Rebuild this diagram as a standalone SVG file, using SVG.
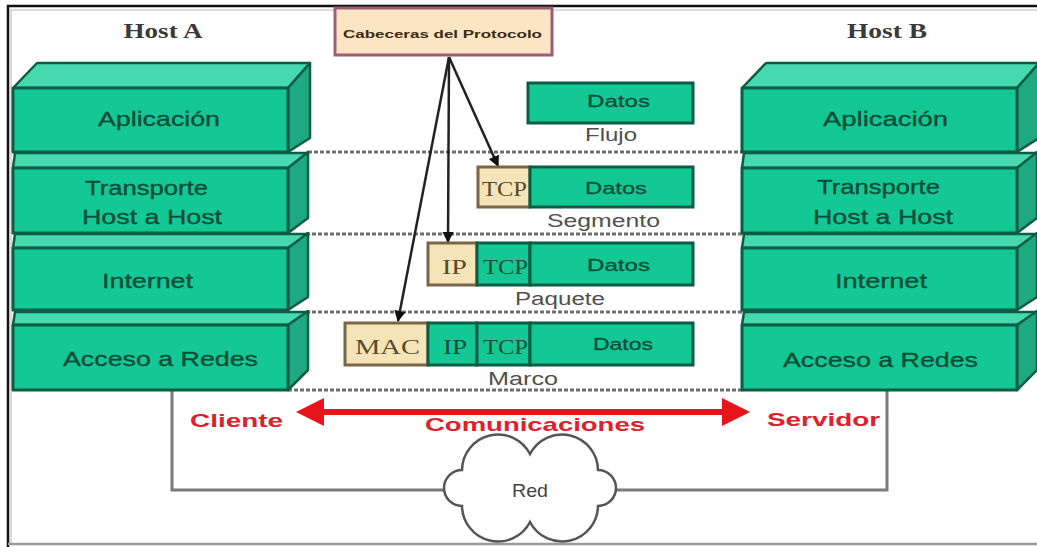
<svg xmlns="http://www.w3.org/2000/svg" width="1037" height="547" viewBox="0 0 1037 547">
  <style>
    .front { fill: #14c896; stroke: #0b5e44; stroke-width: 3; stroke-linejoin: round; }
    .top { fill: #45d9ad; stroke: #0b5e44; stroke-width: 2.5; stroke-linejoin: round; }
    .side { fill: #1fa980; stroke: #0b5e44; stroke-width: 2.5; stroke-linejoin: round; }
    .cell { fill: #14c896; stroke: #0b5e44; stroke-width: 3; }
    .hdr { fill: #f5e4b8; stroke: #7a6646; stroke-width: 3; }
    .layer { font-family: "Liberation Sans", Arial, sans-serif; font-size: 21px; fill: #0a4d37; stroke: #0a4d37; stroke-width: 0.35; text-anchor: middle; }
    .data { font-family: "Liberation Sans", Arial, sans-serif; font-size: 17px; fill: #0a4d37; stroke: #0a4d37; stroke-width: 0.3; text-anchor: middle; }
    .pdu { font-family: "Liberation Sans", Arial, sans-serif; font-size: 18px; fill: #505050; text-anchor: middle; }
    .tag { font-family: "Liberation Serif", "Times New Roman", serif; font-size: 20px; text-anchor: middle; }
    .tag-h { fill: #5a4a2c; }
    .tag-g { fill: #0a4d37; }
    .host { font-family: "Liberation Serif", "Times New Roman", serif; font-size: 21px; font-weight: bold; fill: #3a3a3a; text-anchor: middle; }
    .red { font-family: "Liberation Sans", Arial, sans-serif; font-size: 19px; font-weight: bold; fill: #e0202a; text-anchor: middle; }
    .dash { stroke: #6e6e6e; stroke-width: 3; stroke-dasharray: 4 2; fill: none; }
    .wire { stroke: #7a7a7a; stroke-width: 3; fill: none; }
    .ptr { stroke: #222; stroke-width: 2.5; fill: none; marker-end: url(#tip); }
  </style>
  <defs>
    <marker id="tip" viewBox="0 0 10 10" refX="9" refY="5" markerWidth="4.5" markerHeight="4.5" orient="auto" markerUnits="strokeWidth">
      <path d="M0,0 L10,5 L0,10 z" fill="#111"/>
    </marker>
  </defs>

  <!-- page frame -->
  <rect x="0" y="0" width="1037" height="547" fill="#ffffff"/>
  <path d="M11,543 V10 H1037" fill="none" stroke="#cfcfcf" stroke-width="1.5"/>
  <path d="M8,547 V6 H1037" fill="none" stroke="#111" stroke-width="2.5"/>
  <path d="M8,544 H1037" fill="none" stroke="#9a9a9a" stroke-width="2.5"/>

  <!-- host titles -->
  <text class="host" x="163" y="38" textLength="79" lengthAdjust="spacingAndGlyphs">Host A</text>
  <text class="host" x="887" y="38" textLength="80" lengthAdjust="spacingAndGlyphs">Host B</text>

  <!-- connectors: layer guides, pointers, network wiring -->
  <g id="connectors">
    <line class="dash" x1="308" y1="152" x2="742" y2="152"/>
    <line class="dash" x1="306" y1="234" x2="742" y2="234"/>
    <line class="dash" x1="306" y1="312" x2="742" y2="312"/>
    <line class="dash" x1="288" y1="390" x2="742" y2="390"/>

    <line class="ptr" x1="449" y1="57" x2="498" y2="166"/>
    <line class="ptr" x1="449" y1="57" x2="448" y2="242"/>
    <line class="ptr" x1="449" y1="57" x2="398" y2="321"/>

    <path class="wire" d="M172,390 V490 H446"/>
    <path class="wire" d="M615,490 H887 V390"/>

    <g id="comm-arrow">
      <line x1="318" y1="412" x2="728" y2="412" stroke="#e8141c" stroke-width="6"/>
      <polygon points="296,412 324,398 324,426" fill="#e8141c"/>
      <polygon points="750,412 722,398 722,426" fill="#e8141c"/>
    </g>
  </g>

  <!-- protocol headers note -->
  <g id="headers-note">
    <rect x="335" y="8" width="217" height="47" fill="#fbe5c3" stroke="#9c5e74" stroke-width="3"/>
    <text x="442.5" y="38" font-family="Liberation Sans, Arial, sans-serif" font-size="11" font-weight="bold" fill="#3a2a10" text-anchor="middle" textLength="199" lengthAdjust="spacingAndGlyphs">Cabeceras del Protocolo</text>
  </g>

  <!-- Host A stack -->
  <g id="hostA-app">
    <polygon class="top" points="13,88 37,63 310,63 288,88"/>
    <polygon class="side" points="288,88 310,63 310,138 288,152"/>
    <rect class="front" x="13" y="88" width="275" height="64"/>
    <text class="layer" x="159" y="126" textLength="122" lengthAdjust="spacingAndGlyphs">Aplicación</text>
  </g>
  <g id="hostA-transport">
    <polygon class="top" points="13,168 15,153 308,153 288,168"/>
    <polygon class="side" points="288,168 308,152 308,218 288,233"/>
    <rect class="front" x="13" y="168" width="275" height="65"/>
    <text class="layer" x="146.5" y="195" textLength="123" lengthAdjust="spacingAndGlyphs">Transporte</text>
    <text class="layer" x="152" y="224" textLength="140" lengthAdjust="spacingAndGlyphs">Host a Host</text>
  </g>
  <g id="hostA-internet">
    <polygon class="top" points="13,248 15,234 308,234 288,248"/>
    <polygon class="side" points="288,248 308,233 308,297 288,310"/>
    <rect class="front" x="13" y="248" width="275" height="62"/>
    <text class="layer" x="147.5" y="288" textLength="91" lengthAdjust="spacingAndGlyphs">Internet</text>
  </g>
  <g id="hostA-access">
    <polygon class="top" points="13,325 15,312 308,312 288,325"/>
    <polygon class="side" points="288,325 308,311 308,370 288,390"/>
    <rect class="front" x="13" y="325" width="275" height="65"/>
    <text class="layer" x="160.5" y="366" textLength="195" lengthAdjust="spacingAndGlyphs">Acceso a Redes</text>
  </g>

  <!-- Host B stack -->
  <g id="hostB-app">
    <polygon class="top" points="742,88 766,63 1039,63 1017,88"/>
    <polygon class="side" points="1017,88 1039,63 1039,138 1017,152"/>
    <rect class="front" x="742" y="88" width="275" height="64"/>
    <text class="layer" x="885.5" y="126" textLength="125" lengthAdjust="spacingAndGlyphs">Aplicación</text>
  </g>
  <g id="hostB-transport">
    <polygon class="top" points="742,168 744,153 1037,153 1017,168"/>
    <polygon class="side" points="1017,168 1037,152 1037,218 1017,233"/>
    <rect class="front" x="742" y="168" width="275" height="65"/>
    <text class="layer" x="878.5" y="194" textLength="123" lengthAdjust="spacingAndGlyphs">Transporte</text>
    <text class="layer" x="883" y="224" textLength="140" lengthAdjust="spacingAndGlyphs">Host a Host</text>
  </g>
  <g id="hostB-internet">
    <polygon class="top" points="742,248 744,234 1037,234 1017,248"/>
    <polygon class="side" points="1017,248 1037,233 1037,297 1017,310"/>
    <rect class="front" x="742" y="248" width="275" height="62"/>
    <text class="layer" x="881" y="288" textLength="92" lengthAdjust="spacingAndGlyphs">Internet</text>
  </g>
  <g id="hostB-access">
    <polygon class="top" points="742,325 744,312 1037,312 1017,325"/>
    <polygon class="side" points="1017,325 1037,311 1037,370 1017,390"/>
    <rect class="front" x="742" y="325" width="275" height="65"/>
    <text class="layer" x="880.5" y="367" textLength="195" lengthAdjust="spacingAndGlyphs">Acceso a Redes</text>
  </g>

  <!-- encapsulation: stream -->
  <g id="pdu-stream">
    <rect class="cell" x="528" y="83" width="165" height="40"/>
    <text class="data" x="618.5" y="107" textLength="63" lengthAdjust="spacingAndGlyphs">Datos</text>
    <text class="pdu" x="611" y="141" textLength="52" lengthAdjust="spacingAndGlyphs">Flujo</text>
  </g>

  <!-- encapsulation: segment -->
  <g id="pdu-segment">
    <rect class="hdr" x="478" y="167" width="52" height="40"/>
    <rect class="cell" x="530" y="167" width="163" height="40"/>
    <text class="tag tag-h" x="504.5" y="196" textLength="45" lengthAdjust="spacingAndGlyphs">TCP</text>
    <text class="data" x="616" y="194" textLength="62" lengthAdjust="spacingAndGlyphs">Datos</text>
    <text class="pdu" x="603.5" y="227" textLength="113" lengthAdjust="spacingAndGlyphs">Segmento</text>
  </g>

  <!-- encapsulation: packet -->
  <g id="pdu-packet">
    <rect class="hdr" x="428" y="243" width="49" height="42"/>
    <rect class="cell" x="477" y="243" width="53" height="42"/>
    <rect class="cell" x="530" y="243" width="163" height="42"/>
    <text class="tag tag-h" x="454.5" y="274" textLength="25" lengthAdjust="spacingAndGlyphs">IP</text>
    <text class="tag tag-g" x="505.5" y="274" textLength="45" lengthAdjust="spacingAndGlyphs">TCP</text>
    <text class="data" x="618.5" y="271" textLength="63" lengthAdjust="spacingAndGlyphs">Datos</text>
    <text class="pdu" x="560" y="305" textLength="90" lengthAdjust="spacingAndGlyphs">Paquete</text>
  </g>

  <!-- encapsulation: frame -->
  <g id="pdu-frame">
    <rect class="hdr" x="345" y="323" width="83" height="42"/>
    <rect class="cell" x="428" y="323" width="49" height="42"/>
    <rect class="cell" x="477" y="323" width="53" height="42"/>
    <rect class="cell" x="530" y="323" width="163" height="42"/>
    <text class="tag tag-h" x="387.5" y="354" textLength="65" lengthAdjust="spacingAndGlyphs">MAC</text>
    <text class="tag tag-g" x="455" y="354" textLength="24" lengthAdjust="spacingAndGlyphs">IP</text>
    <text class="tag tag-g" x="505.5" y="354" textLength="45" lengthAdjust="spacingAndGlyphs">TCP</text>
    <text class="data" x="623" y="350" textLength="60" lengthAdjust="spacingAndGlyphs">Datos</text>
    <text class="pdu" x="523" y="385" textLength="70" lengthAdjust="spacingAndGlyphs">Marco</text>
  </g>

  <!-- client / server communication labels -->
  <g id="comm-labels">
    <text class="red" x="236.5" y="427" textLength="93" lengthAdjust="spacingAndGlyphs">Cliente</text>
    <text class="red" x="535" y="431" textLength="220" lengthAdjust="spacingAndGlyphs">Comunicaciones</text>
    <text class="red" x="823.5" y="426" textLength="113" lengthAdjust="spacingAndGlyphs">Servidor</text>
  </g>

  <!-- network cloud -->
  <g id="network">
    <path d="M530,454 A36,36 0 0 1 598,470 A18,18 0 0 1 598,506 A36,36 0 0 1 530,522 A36,36 0 0 1 462,506 A18,18 0 0 1 462,470 A36,36 0 0 1 530,454 Z" fill="#ffffff" stroke="#555" stroke-width="2.5"/>
    <text x="530" y="497" font-family="Liberation Sans, Arial, sans-serif" font-size="19" fill="#444" text-anchor="middle" textLength="36" lengthAdjust="spacingAndGlyphs">Red</text>
  </g>
</svg>
